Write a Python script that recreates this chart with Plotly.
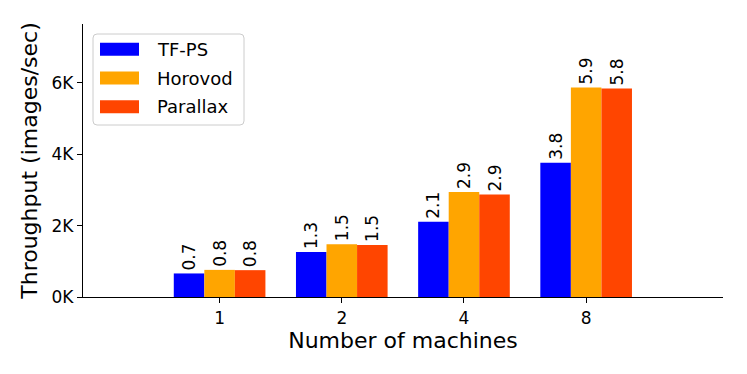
import plotly.graph_objects as go

# throughput in images/sec
machines = ["1", "2", "4", "8"]
tfps = [660, 1260, 2110, 3760]
horovod = [760, 1480, 2940, 5870]
parallax = [752, 1460, 2870, 5840]
series_names = ["TF-PS", "Horovod", "Parallax"]
colors = ["#0000ff", "#ffa500", "#ff4500"]
ytick_vals = [0, 2000, 4000, 6000]
ytick_text = ["0K", "2K", "4K", "6K"]

W, H = 747, 374
L, R, T, B = 83, 24, 24, 77
FONT = "DejaVu Sans"


def px(x, y):
    # pixel -> paper coords
    return (x - L) / (W - L - R), (H - B - y) / (H - T - B)


fig = go.Figure()
for name, vals, c in zip(series_names, [tfps, horovod, parallax], colors):
    fig.add_bar(x=machines, y=vals, name=name, marker_color=c,
                marker_line_width=0,
                text=[f"{v/1000:.1f}" for v in vals],
                textposition="outside", textangle=-90, constraintext="none",
                textfont=dict(size=17, color="black", family=FONT),
                cliponaxis=False, showlegend=False)

# legend drawn by hand so the patches have matplotlib proportions
x0, y0 = px(93, 34)
x1, y1 = px(244, 125)
rx, ry = 4 / (W - L - R), 4 / (H - T - B)
path = (f"M {x0+rx},{y0} L {x1-rx},{y0} Q {x1},{y0} {x1},{y0-ry} "
        f"L {x1},{y1+ry} Q {x1},{y1} {x1-rx},{y1} L {x0+rx},{y1} "
        f"Q {x0},{y1} {x0},{y1+ry} L {x0},{y0-ry} Q {x0},{y0} {x0+rx},{y0} Z")
shapes = [dict(type="path", xref="paper", yref="paper", path=path,
               line=dict(color="#cccccc", width=1), fillcolor="rgba(255,255,255,0.8)")]
annotations = []
for i, (name, c) in enumerate(zip(series_names, colors)):
    cy = 49.3 + i * 28.7
    a0, b0 = px(100, cy - 6.5)
    a1, b1 = px(139, cy + 6.5)
    shapes.append(dict(type="rect", xref="paper", yref="paper",
                       x0=a0, x1=a1, y0=b1, y1=b0, fillcolor=c, line_width=0))
    tx, ty = px(155, cy)
    annotations.append(dict(xref="paper", yref="paper", x=tx, y=ty, text=name,
                            showarrow=False, xanchor="left", yanchor="middle",
                            font=dict(size=18, color="black", family=FONT)))

fig.update_layout(
    width=W, height=H,
    margin=dict(l=L, r=R, t=T, b=B),
    plot_bgcolor="white", paper_bgcolor="white",
    barmode="group", bargap=0.25, bargroupgap=0,
    font=dict(family=FONT, color="black"),
    shapes=shapes, annotations=annotations,
    xaxis=dict(type="category", range=[-1.118, 4.12], showline=True,
               linecolor="black", linewidth=1.2, ticks="outside", ticklen=5,
               tickcolor="black", tickfont=dict(size=17), showgrid=False,
               automargin=False,
               title=dict(text="Number of machines", font=dict(size=22), standoff=6)),
    yaxis=dict(range=[0, 7650], tickvals=ytick_vals, ticktext=ytick_text,
               showline=True, linecolor="black", linewidth=1.2, ticks="outside",
               ticklen=5, tickcolor="black", tickfont=dict(size=17),
               showgrid=False, zeroline=False, automargin=False,
               title=dict(text="Throughput (images/sec)", font=dict(size=22), standoff=7)),
)

# page body has an 8px default margin; drop it so the figure sits at 0,0
fig.write_html("out.html", config={"displayModeBar": False},
               post_script="document.body.style.margin='0';")
